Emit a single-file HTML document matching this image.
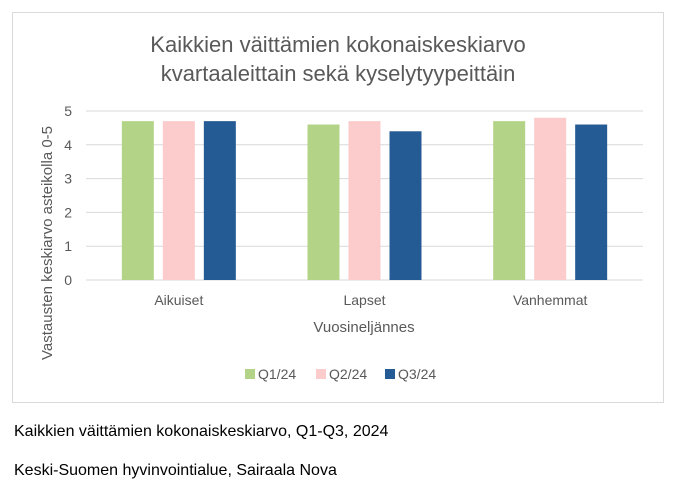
<!DOCTYPE html>
<html><head><meta charset="utf-8"><style>
body{margin:0;background:#fff;font-family:"Liberation Sans",Calibri,sans-serif;}
.cap{position:absolute;left:14px;font-size:16px;color:#000;}
</style></head><body>
<div style="position:relative;width:677px;height:491px;">
<svg width="677" height="491" style="position:absolute;left:0;top:0">
<rect x="12.5" y="12.5" width="651" height="390" fill="#fff" stroke="#d9d9d9"/>
<text x="338" y="52" text-anchor="middle" font-size="22" fill="#595959">Kaikkien väittämien kokonaiskeskiarvo</text>
<text x="338" y="81" text-anchor="middle" font-size="22" fill="#595959">kvartaaleittain sekä kyselytyypeittäin</text>
<g id="grid"></g><g id="bars"></g><g id="labels"></g>
<text transform="translate(52,243) rotate(-90)" text-anchor="middle" font-size="15" fill="#595959">Vastausten keskiarvo asteikolla 0-5</text>
<text x="364" y="332" text-anchor="middle" font-size="15" fill="#595959">Vuosineljännes</text>
<g id="legend"></g>
</svg>
<div class="cap" style="top:423px">Kaikkien väittämien kokonaiskeskiarvo, Q1-Q3, 2024</div>
<div class="cap" style="top:462px">Keski-Suomen hyvinvointialue, Sairaala Nova</div>
</div>
<script>
const categories=["Aikuiset","Lapset","Vanhemmat"];
const seriesNames=["Q1/24","Q2/24","Q3/24"];
const q1=[4.7,4.6,4.7];
const q2=[4.7,4.7,4.8];
const q3=[4.7,4.4,4.6];
const yTicks=[0,1,2,3,4,5];
const colors=["#b3d486","#fccbcb","#255b94"];
const NS="http://www.w3.org/2000/svg";
const X0=86,X1=643,Y0=280,Y5=111;
const y=v=>Y0-(v/5)*(Y0-Y5);
const catW=(X1-X0)/categories.length;
const cx=i=>X0+catW*(i+0.5);
function mk(t,a,p){const e=document.createElementNS(NS,t);for(const k in a)e.setAttribute(k,a[k]);p.appendChild(e);return e;}
const grid=document.getElementById('grid'),bars=document.getElementById('bars'),labels=document.getElementById('labels'),legend=document.getElementById('legend');
yTicks.forEach(t=>{
 const l=mk('line',{x1:X0,x2:X1,y1:y(t),y2:y(t),stroke:'#d9d9d9','stroke-width':1},grid);
 
 
 const tx=mk('text',{x:72,y:y(t)+5,'text-anchor':'end','font-size':14,fill:'#595959'},labels);
 tx.textContent=t;
 
 
});
const series=[q1,q2,q3];
const bw=32,step=41;
categories.forEach((c,i)=>{
 series.forEach((s,j)=>{
  const x=cx(i)+(j-1)*step-bw/2;
  const r=mk('rect',{x:x,y:y(s[i]),width:bw,height:Y0-y(s[i]),fill:colors[j]},bars);
  
  
 });
 const tx=mk('text',{x:cx(i),y:305,'text-anchor':'middle','font-size':14,fill:'#595959'},labels);
 tx.textContent=c;
 
 
});
const lx=[245,316,385];
seriesNames.forEach((n,j)=>{
 const g=mk('g',{},legend);
 
 
 mk('rect',{x:lx[j],y:369,width:10,height:10,fill:colors[j]},g);
 const t=mk('text',{x:lx[j]+13,y:379,'font-size':14,fill:'#595959'},g);
 t.textContent=n;
});
</script>
</body></html>
